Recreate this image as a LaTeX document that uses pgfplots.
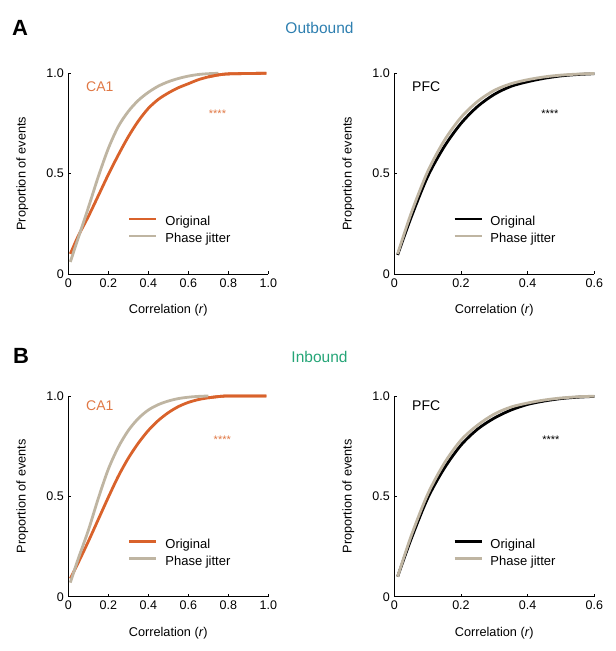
\documentclass[border=0pt]{standalone}
\usepackage{pgfplots}
\pgfplotsset{compat=1.18}
\usepackage{fontspec}
\setmainfont{Liberation Sans}
\definecolor{origO}{HTML}{D9622B}
\definecolor{caO}{HTML}{E07845}
\definecolor{jit}{HTML}{BFB5A2}
\definecolor{outB}{HTML}{2E7FB0}
\definecolor{inG}{HTML}{25A577}

\tikzset{stars/.style={anchor=base, font=\fontsize{11}{12}\selectfont}}

\pgfplotsset{
  cdf/.style={
    width=200pt, height=200.7pt, scale only axis,
    anchor=south west,
    axis lines*=left,
    axis line style={line width=0.8pt},
    ymin=0, ymax=1, ytick={0,0.5,1}, yticklabels={0,0.5,1.0},
    tick align=inside, major tick length=3pt,
    tick style={line width=0.6pt,black},
    /pgf/number format/assume math mode=true,
    tick label style={font=\fontsize{12.5}{14}\selectfont},
    xticklabel style={yshift=-1pt},
    yticklabel style={xshift=-1pt},
    xlabel={Correlation (\textit{r})},
    ylabel={Proportion of events},
    label style={font=\fontsize{12.7}{14}\selectfont},
    xlabel style={at={(axis description cs:0.5,-0.18)}, anchor=center},
    ylabel style={at={(axis description cs:-0.23,0.5)}, anchor=center},
    clip=false,
    legend image code/.code={\draw[##1] (0pt,3.5pt) -- (27pt,3.5pt);},
    legend style={draw=none, fill=none, anchor=north west,
      font=\fontsize{13}{15}\selectfont, row sep=4.5pt,
      inner sep=0pt, nodes={inner sep=0pt, text height=9.5pt, text depth=3pt},
      /tikz/every odd column/.append style={column sep=7.5pt}},
    legend cell align=left,
  },
  lefta/.style={cdf, xmin=0, xmax=1, xtick={0,0.2,0.4,0.6,0.8,1},
    xticklabels={0,0.2,0.4,0.6,0.8,1.0},
    legend style={at={(axis cs:0.298,0.289)}}},
  righta/.style={cdf, xmin=0, xmax=0.6, xtick={0,0.2,0.4,0.6},
    xticklabels={0,0.2,0.4,0.6},
    legend style={at={(axis cs:0.176,0.289)}}},
}

\begin{document}
\begin{tikzpicture}
\path[use as bounding box] (0pt,0pt) rectangle (616pt,651pt);

\node[font=\bfseries\fontsize{22}{24}\selectfont, anchor=west] at (8.5pt,623.5pt) {A};
\node[font=\fontsize{15.5}{17}\selectfont, text=outB] at (319.5pt,623pt) {Outbound};
\node[font=\bfseries\fontsize{22}{24}\selectfont, anchor=west] at (9.5pt,295.2pt) {B};
\node[font=\fontsize{15.5}{17}\selectfont, text=inG] at (319.5pt,294.3pt) {Inbound};

% A - CA1
\begin{axis}[lefta, at={(68.3pt,377pt)}]
\addplot[origO, line width=2.8pt, smooth] coordinates {
(0.01,0.10) (0.05,0.19) (0.10,0.286) (0.15,0.39) (0.20,0.495) (0.25,0.593)
(0.30,0.684) (0.35,0.762) (0.40,0.825) (0.45,0.870) (0.50,0.902) (0.55,0.928)
(0.60,0.948) (0.65,0.968) (0.70,0.982) (0.75,0.992) (0.80,0.997) (0.90,0.999) (0.99,1.0)};
\addplot[jit, line width=2.8pt, smooth] coordinates {
(0.01,0.06) (0.05,0.18) (0.10,0.33) (0.15,0.485) (0.20,0.625) (0.25,0.735)
(0.30,0.81) (0.35,0.865) (0.40,0.905) (0.45,0.936) (0.50,0.958) (0.55,0.974)
(0.60,0.986) (0.65,0.994) (0.70,0.998) (0.75,1.0)};
\addplot[origO, line width=2.8pt, smooth, forget plot] coordinates {
(0.70,0.982) (0.75,0.992) (0.80,0.997) (0.90,0.999) (0.99,1.0)};
\legend{Original, Phase jitter}
\node[anchor=west, text=caO, font=\fontsize{14}{16}\selectfont] at (axis cs:0.072,0.933) {CA1};
\node[stars, text=caO] at (axis cs:0.746,0.782) {****};
\end{axis}

% A - PFC
\begin{axis}[righta, at={(394.3pt,377pt)}]
\addplot[black, line width=2.8pt, smooth] coordinates {
(0.01,0.095) (0.05,0.28) (0.10,0.485) (0.15,0.635) (0.20,0.75) (0.25,0.835)
(0.30,0.895) (0.35,0.935) (0.40,0.958) (0.45,0.975) (0.50,0.987) (0.55,0.994) (0.60,0.998)};
\addplot[jit, line width=2.8pt, smooth] coordinates {
(0.01,0.10) (0.05,0.30) (0.10,0.51) (0.15,0.665) (0.20,0.78) (0.25,0.86)
(0.30,0.915) (0.35,0.948) (0.40,0.968) (0.45,0.982) (0.50,0.991) (0.55,0.996) (0.60,0.999)};
\legend{Original, Phase jitter}
\node[anchor=west, font=\fontsize{14}{16}\selectfont] at (axis cs:0.043,0.933) {PFC};
\node[stars] at (axis cs:0.467,0.782) {****};
\end{axis}

% B - CA1
\begin{axis}[lefta, at={(68.3pt,54.3pt)}]
\addplot[origO, line width=2.8pt, smooth] coordinates {
(0.01,0.09) (0.05,0.17) (0.10,0.275) (0.15,0.385) (0.20,0.495) (0.25,0.60)
(0.30,0.69) (0.35,0.765) (0.40,0.828) (0.45,0.878) (0.50,0.917) (0.55,0.947)
(0.60,0.968) (0.65,0.982) (0.70,0.991) (0.75,0.997) (0.80,1.0) (0.99,1.0)};
\addplot[jit, line width=2.8pt, smooth] coordinates {
(0.01,0.07) (0.05,0.19) (0.10,0.33) (0.15,0.49) (0.20,0.635) (0.25,0.745)
(0.30,0.828) (0.35,0.888) (0.40,0.93) (0.45,0.957) (0.50,0.975) (0.55,0.987)
(0.60,0.994) (0.65,0.998) (0.70,1.0)};
\addplot[origO, line width=2.8pt, smooth, forget plot] coordinates {
(0.70,0.991) (0.75,0.997) (0.80,1.0) (0.99,1.0)};
\legend{Original, Phase jitter}
\node[anchor=west, text=caO, font=\fontsize{14}{16}\selectfont] at (axis cs:0.072,0.953) {CA1};
\node[stars, text=caO] at (axis cs:0.77,0.763) {****};
\end{axis}

% B - PFC
\begin{axis}[righta, at={(394.3pt,54.3pt)}]
\addplot[black, line width=2.8pt, smooth] coordinates {
(0.01,0.10) (0.05,0.285) (0.10,0.49) (0.15,0.64) (0.20,0.755) (0.25,0.835)
(0.30,0.89) (0.35,0.93) (0.40,0.958) (0.45,0.975) (0.50,0.987) (0.55,0.994) (0.60,0.998)};
\addplot[jit, line width=2.8pt, smooth] coordinates {
(0.01,0.10) (0.05,0.30) (0.10,0.51) (0.15,0.665) (0.20,0.78) (0.25,0.855)
(0.30,0.91) (0.35,0.945) (0.40,0.965) (0.45,0.98) (0.50,0.99) (0.55,0.996) (0.60,0.999)};
\legend{Original, Phase jitter}
\node[anchor=west, font=\fontsize{14}{16}\selectfont] at (axis cs:0.043,0.95) {PFC};
\node[stars] at (axis cs:0.47,0.763) {****};
\end{axis}
\end{tikzpicture}
\end{document}
